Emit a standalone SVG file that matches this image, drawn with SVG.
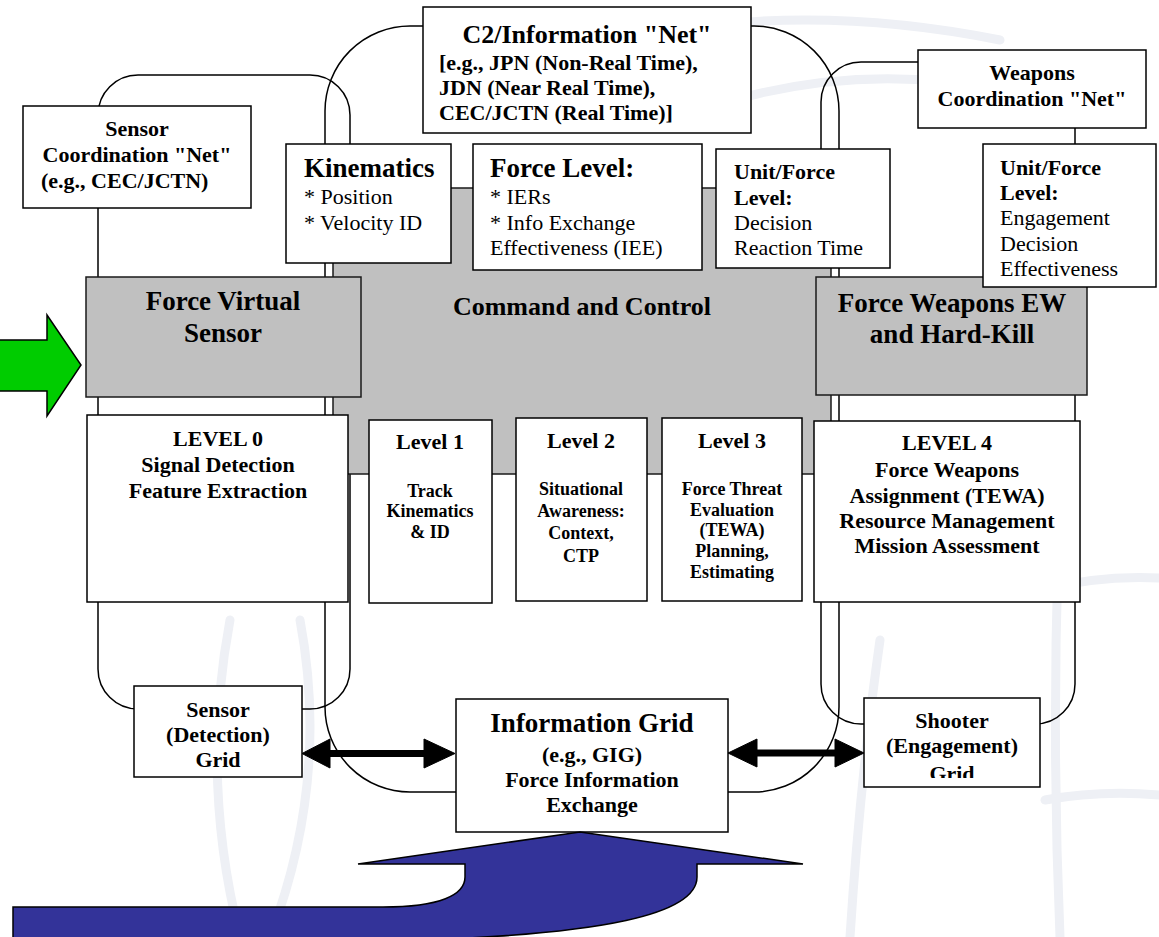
<svg xmlns="http://www.w3.org/2000/svg" width="1159" height="937" viewBox="0 0 1159 937" font-family="Liberation Serif">
<style>
.box{fill:#fff;stroke:#000;stroke-width:1.5}
.gray{fill:#C0C0C0;stroke:#1a1a1a;stroke-width:1.5}
.loop{fill:none;stroke:#000;stroke-width:1.5}
.wm{fill:none;stroke:#EEF0F5;stroke-width:9;stroke-linecap:round}
text{font-family:"Liberation Serif","Times New Roman",serif;fill:#000}
.t27{font-size:27px;font-weight:bold}
.t26{font-size:26px;font-weight:bold}
.b22{font-size:22px;font-weight:bold}
.r22{font-size:22px}
.b18{font-size:18px;font-weight:bold}
.c{text-anchor:middle}
.dbl{fill:#000;stroke:#000;stroke-width:1}
</style>
<defs>
<clipPath id="shooterClip"><rect x="864" y="698" width="176" height="80"/></clipPath>
</defs>
<rect x="0" y="0" width="1159" height="937" fill="#fff"/>
<g id="watermark">
<path class="wm" d="M1058 560 Q1052 750 1060 937"/>
<path class="wm" d="M1040 590 Q1100 575 1159 578"/>
<path class="wm" d="M1045 800 Q1100 790 1159 795"/>
<path class="wm" d="M880 640 Q860 780 850 937"/>
<path class="wm" d="M230 620 Q200 780 240 937"/>
<path class="wm" d="M300 620 Q330 780 270 937"/>
<path class="wm" d="M620 40 Q800 0 1000 40"/>
<path class="wm" d="M700 110 Q850 60 1000 90"/>
</g>
<g id="connectors">
<rect class="loop" x="98" y="75" width="252" height="634" rx="40" ry="40"/>
<rect class="loop" x="325" y="26" width="514" height="766" rx="85" ry="85"/>
<rect class="loop" x="821" y="62" width="254" height="662" rx="40" ry="40"/>
</g>
<g id="command-and-control">
<rect class="gray" x="333" y="188" width="498" height="286"/>
<text class="t26 c" x="582" y="315">Command and Control</text>
</g>
<g id="sensor-coordination-net">
<rect class="box" x="23" y="106" width="228" height="102"/>
<text class="b22 c" x="137" y="136">Sensor</text>
<text class="b22 c" x="137" y="162">Coordination "Net"</text>
<text class="b22" x="41" y="188">(e.g., CEC/JCTN)</text>
</g>
<g id="c2-information-net">
<rect class="box" x="423" y="7" width="328" height="126"/>
<text class="t26 c" x="587" y="43">C2/Information "Net"</text>
<text class="b22" x="439" y="70">[e.g., JPN (Non-Real Time),</text>
<text class="b22" x="439" y="95">JDN (Near Real Time),</text>
<text class="b22" x="439" y="120">CEC/JCTN (Real Time)]</text>
</g>
<g id="weapons-coordination-net">
<rect class="box" x="918" y="50" width="228" height="78"/>
<text class="b22 c" x="1032" y="80">Weapons</text>
<text class="b22 c" x="1032" y="106">Coordination "Net"</text>
</g>
<g id="kinematics">
<rect class="box" x="286" y="144" width="165" height="119"/>
<text class="t27" x="304" y="177">Kinematics</text>
<text class="r22" x="304" y="204">* Position</text>
<text class="r22" x="304" y="230">* Velocity ID</text>
</g>
<g id="force-level">
<rect class="box" x="473" y="144" width="229" height="126"/>
<text class="t27" x="490" y="177">Force Level:</text>
<text class="r22" x="490" y="204">* IERs</text>
<text class="r22" x="490" y="230">* Info Exchange</text>
<text class="r22" x="490" y="255">Effectiveness (IEE)</text>
</g>
<g id="unit-force-decision">
<rect class="box" x="716" y="149" width="174" height="119"/>
<text class="b22" x="734" y="179">Unit/Force</text>
<text class="b22" x="734" y="205">Level:</text>
<text class="r22" x="734" y="230">Decision</text>
<text class="r22" x="734" y="255">Reaction Time</text>
</g>
<g id="force-weapons-ew">
<rect class="gray" x="816" y="277" width="271" height="118"/>
<text class="t27 c" x="952" y="312">Force Weapons EW</text>
<text class="t27 c" x="952" y="343">and Hard-Kill</text>
</g>
<g id="unit-force-engagement">
<rect class="box" x="983" y="144" width="173" height="143"/>
<text class="b22" x="1000" y="175">Unit/Force</text>
<text class="b22" x="1000" y="200">Level:</text>
<text class="r22" x="1000" y="225">Engagement</text>
<text class="r22" x="1000" y="251">Decision</text>
<text class="r22" x="1000" y="276">Effectiveness</text>
</g>
<g id="force-virtual-sensor">
<rect class="gray" x="86" y="277" width="275" height="120"/>
<text class="t27 c" x="223" y="310">Force Virtual</text>
<text class="t27 c" x="223" y="342">Sensor</text>
</g>
<g id="level-0">
<rect class="box" x="87" y="415" width="261" height="187"/>
<text class="b22 c" x="218" y="446">LEVEL 0</text>
<text class="b22 c" x="218" y="472">Signal Detection</text>
<text class="b22 c" x="218" y="498">Feature Extraction</text>
</g>
<g id="level-1">
<rect class="box" x="369" y="420" width="123" height="183"/>
<text class="b22 c" x="430" y="449">Level 1</text>
<text class="b18 c" x="430" y="497">Track</text>
<text class="b18 c" x="430" y="517">Kinematics</text>
<text class="b18 c" x="430" y="538">&amp; ID</text>
</g>
<g id="level-2">
<rect class="box" x="516" y="418" width="131" height="183"/>
<text class="b22 c" x="581" y="448">Level 2</text>
<text class="b18 c" x="581" y="495">Situational</text>
<text class="b18 c" x="581" y="517">Awareness:</text>
<text class="b18 c" x="581" y="539">Context,</text>
<text class="b18 c" x="581" y="562">CTP</text>
</g>
<g id="level-3">
<rect class="box" x="662" y="418" width="140" height="183"/>
<text class="b22 c" x="732" y="448">Level 3</text>
<text class="b18 c" x="732" y="495">Force Threat</text>
<text class="b18 c" x="732" y="516">Evaluation</text>
<text class="b18 c" x="732" y="536">(TEWA)</text>
<text class="b18 c" x="732" y="557">Planning,</text>
<text class="b18 c" x="732" y="578">Estimating</text>
</g>
<g id="level-4">
<rect class="box" x="814" y="421" width="266" height="181"/>
<text class="b22 c" x="947" y="450">LEVEL 4</text>
<text class="b22 c" x="947" y="477">Force Weapons</text>
<text class="b22 c" x="947" y="503">Assignment (TEWA)</text>
<text class="b22 c" x="947" y="528">Resource Management</text>
<text class="b22 c" x="947" y="553">Mission Assessment</text>
</g>
<g id="sensor-grid">
<rect class="box" x="134" y="686" width="168" height="91"/>
<text class="b22 c" x="218" y="717">Sensor</text>
<text class="b22 c" x="218" y="742">(Detection)</text>
<text class="b22 c" x="218" y="767">Grid</text>
</g>
<g id="information-grid">
<rect class="box" x="456" y="699" width="272" height="133"/>
<text class="t27 c" x="592" y="732">Information Grid</text>
<text class="b22 c" x="592" y="762">(e.g., GIG)</text>
<text class="b22 c" x="592" y="787">Force Information</text>
<text class="b22 c" x="592" y="812">Exchange</text>
</g>
<g id="shooter-grid">
<rect class="box" x="864" y="698" width="176" height="89"/>
<text class="b22 c" x="952" y="728">Shooter</text>
<text class="b22 c" x="952" y="753">(Engagement)</text>
<text class="b22 c" x="952" y="781" clip-path="url(#shooterClip)">Grid</text>
</g>
<g id="grid-arrows">
<path class="dbl" d="M302 753.5 L330 739 L330 750.5 L424 750.5 L424 739 L455 753.5 L424 768 L424 756.5 L330 756.5 L330 768 Z"/>
<path class="dbl" d="M728 753 L757 739 L757 750 L835 750 L835 739 L864 753 L835 767 L835 756 L757 756 L757 767 Z"/>
</g>
<g id="input-arrow">
<path d="M-5 340 L47 340 L47 315 L81 365 L47 416 L47 391 L-5 391 Z" fill="#00CC00" stroke="#000" stroke-width="1.5"/>
</g>
<g id="info-flow-arrow">
<path d="M13 907 L383 907 C440 907 465 895 465 877 L465 864 L358 864 L580 832 L803 864 L697 864 L697 877 C697 915 600 934 420 940 L13 940 Z" fill="#333399" stroke="#000" stroke-width="1.5"/>
</g>
</svg>
